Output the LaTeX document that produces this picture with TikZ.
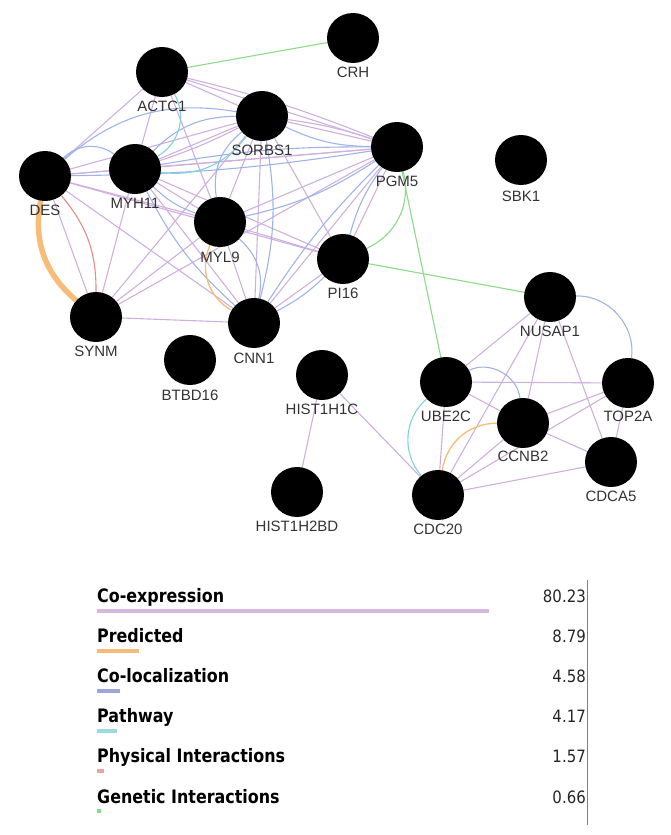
\documentclass[tikz,border=0pt]{standalone}
\usepackage{fontspec}
\setmainfont{Liberation Sans}
\newfontfamily\legfont[FakeStretch=0.86]{DejaVu Sans}
\newfontfamily\numfont[FakeStretch=0.88]{DejaVu Sans}
\usetikzlibrary{shapes.geometric}
\definecolor{cCo}{HTML}{CFB0DD}
\definecolor{cPred}{HTML}{F6BC78}
\definecolor{cLoc}{HTML}{9FB3E6}
\definecolor{cLocBar}{HTML}{9BA7DC}
\definecolor{cPath}{HTML}{7FD3D8}
\definecolor{cPhys}{HTML}{E88A8A}
\definecolor{cGen}{HTML}{8ADB8A}
\definecolor{lblgray}{HTML}{333333}
\pgfdeclarelayer{edgelayer}
\pgfsetlayers{edgelayer,main}
\tikzset{
  gene/.style={ellipse, fill=black, minimum width=52pt, minimum height=50pt, inner sep=0pt},
  glabel/.style={anchor=base, inner sep=0pt, text=lblgray, font=\fontsize{15}{18}\selectfont},
  eCo/.style={draw=cCo, line width=1.1pt},
  eLoc/.style={draw=cLoc, line width=1.1pt},
  ePath/.style={draw=cPath, line width=1.1pt},
  ePred/.style={draw=cPred, line width=1.3pt},
  ePhys/.style={draw=cPhys, line width=1.1pt},
  eGen/.style={draw=cGen, line width=1.1pt},
  legtext/.style={anchor=base west, inner sep=0pt, text=black, font=\legfont\bfseries\fontsize{18.5}{21}\selectfont},
  legnum/.style={anchor=base east, inner sep=0pt, text=black!85, font=\numfont\fontsize{17}{20}\selectfont},
  legbar/.style={line width=4pt}
}
\begin{document}
\begin{tikzpicture}[x=1pt,y=-1pt]
\useasboundingbox (0,0) rectangle (670,835);
% genes
\node[gene] (CRH) at (353,38) {};
\node[gene] (ACTC1) at (162,72) {};
\node[gene] (SORBS1) at (262,116) {};
\node[gene] (PGM5) at (397,147) {};
\node[gene] (SBK1) at (521,160) {};
\node[gene] (DES) at (45,176) {};
\node[gene] (MYH11) at (135,169) {};
\node[gene] (MYL9) at (220,222) {};
\node[gene] (PI16) at (343,259) {};
\node[gene] (NUSAP1) at (550,297) {};
\node[gene] (SYNM) at (96,317) {};
\node[gene] (CNN1) at (254,323) {};
\node[gene] (BTBD16) at (190,360) {};
\node[gene] (HIST1H1C) at (322,375) {};
\node[gene] (UBE2C) at (446,382) {};
\node[gene] (TOP2A) at (628,383) {};
\node[gene] (CCNB2) at (523,423) {};
\node[gene] (CDCA5) at (611,462) {};
\node[gene] (HIST1H2BD) at (297,492) {};
\node[gene] (CDC20) at (438,495) {};
% labels
\node[glabel] (lCRH) at (353,77) {CRH};
\node[glabel] (lACTC1) at (162,111) {ACTC1};
\node[glabel] (lSORBS1) at (262,155.5) {SORBS1};
\node[glabel] (lPGM5) at (397,186) {PGM5};
\node[glabel] (lSBK1) at (521,201) {SBK1};
\node[glabel] (lDES) at (45,215) {DES};
\node[glabel] (lMYH11) at (135,208) {MYH11};
\node[glabel] (lMYL9) at (220,262) {MYL9};
\node[glabel] (lPI16) at (343,298) {PI16};
\node[glabel] (lNUSAP1) at (550,336) {NUSAP1};
\node[glabel] (lSYNM) at (96,356) {SYNM};
\node[glabel] (lCNN1) at (254,363) {CNN1};
\node[glabel] (lBTBD16) at (190,400) {BTBD16};
\node[glabel] (lHIST1H1C) at (322,414) {HIST1H1C};
\node[glabel] (lUBE2C) at (446,421) {UBE2C};
\node[glabel] (lTOP2A) at (628,421) {TOP2A};
\node[glabel] (lCCNB2) at (523,461) {CCNB2};
\node[glabel] (lCDCA5) at (611,501) {CDCA5};
\node[glabel] (lHIST1H2BD) at (297,531) {HIST1H2BD};
\node[glabel] (lCDC20) at (438,534) {CDC20};
\begin{pgfonlayer}{edgelayer}
% co-expression
\foreach \a/\b in {ACTC1/SORBS1, ACTC1/PGM5, ACTC1/DES, ACTC1/MYH11, ACTC1/MYL9,
  DES/MYH11, DES/SORBS1, DES/PGM5, DES/MYL9, DES/CNN1, DES/SYNM, DES/PI16,
  MYH11/SORBS1, MYH11/PGM5, MYH11/MYL9, MYH11/CNN1, MYH11/SYNM, MYH11/PI16,
  SORBS1/PGM5, SORBS1/MYL9, SORBS1/CNN1, SORBS1/PI16, SORBS1/SYNM,
  PGM5/MYL9, PGM5/CNN1, PGM5/PI16, PGM5/SYNM,
  MYL9/CNN1, MYL9/SYNM, MYL9/PI16, PI16/CNN1, SYNM/CNN1,
  NUSAP1/UBE2C, NUSAP1/CCNB2, NUSAP1/CDC20, NUSAP1/CDCA5,
  UBE2C/TOP2A, UBE2C/CCNB2, UBE2C/CDC20,
  CCNB2/TOP2A, CCNB2/CDCA5, CCNB2/CDC20,
  TOP2A/CDCA5, TOP2A/CDC20, CDCA5/CDC20,
  HIST1H1C/CDC20, HIST1H1C/HIST1H2BD}
  \draw[eCo] (\a) -- (\b);
\draw[eCo] (ACTC1) to[bend left=4] (PGM5);
\draw[eCo] (MYH11) to[bend right=4] (SORBS1);
\draw[eCo] (SORBS1) to[bend left=5] (PGM5);
% co-localization
\draw[eLoc] (DES) to[bend left=25] (SORBS1);
\draw[eLoc] (DES) to[bend left=40] (MYH11);
\draw[eLoc] (MYH11) to[bend left=22] (SORBS1);
\draw[eLoc] (DES) to[bend right=4] (PGM5);
\draw[eLoc] (MYH11) to[bend left=5] (PGM5);
\draw[eLoc] (MYH11) to[bend right=12] (MYL9);
\draw[eLoc] (MYH11) to[bend right=10] (CNN1);
\draw[eLoc] (SORBS1) to[bend right=30] (MYL9);
\draw[eLoc] (SORBS1) to[bend left=12] (CNN1);
\draw[eLoc] (SORBS1) to[bend right=12] (PGM5);
\draw[eLoc] (PGM5) to[bend left=10] (MYL9);
\draw[eLoc] (PGM5) to[bend right=6] (CNN1);
\draw[eLoc] (PGM5) to[bend right=10] (PI16);
\draw[eLoc] (MYL9) to[bend left=30] (CNN1);
\draw[eLoc] (PI16) to[bend left=8] (CNN1);
\draw[eLoc] (NUSAP1) to[bend left=50] (TOP2A);
\draw[eLoc] (UBE2C) to[bend left=55] (CCNB2);
% pathway
\draw[ePath] (ACTC1) to[bend left=45] (MYH11);
\draw[ePath] (SORBS1) to[bend left=30] (MYH11);
\draw[ePath] (UBE2C) to[bend right=45] (CDC20);
% predicted
\draw[ePred, line width=5.5pt] (DES) to[bend right=30] (SYNM);
\draw[ePred] (MYL9) to[bend right=42] (CNN1);
\draw[ePred] (CCNB2) to[bend right=40] (CDC20);
% physical
\draw[ePhys] (DES) to[bend left=20] (SYNM);
% genetic
\draw[eGen] (ACTC1) -- (CRH);
\draw[eGen] (PGM5) to[bend left=40] (PI16);
\draw[eGen] (PGM5) -- (UBE2C);
\draw[eGen] (PI16) -- (NUSAP1);
\end{pgfonlayer}
% legend
\node[legtext] (t1) at (97,602) {Co-expression};
\node[legtext] (t2) at (97,642) {Predicted};
\node[legtext] (t3) at (97,682) {Co-localization};
\node[legtext] (t4) at (97,722) {Pathway};
\node[legtext] (t5) at (97,762) {Physical Interactions};
\node[legtext] (t6) at (97,803) {Genetic Interactions};
\draw[legbar, cCo!90] (97,610.5) -- (489,610.5);
\draw[legbar, cPred] (97,650.5) -- (139,650.5);
\draw[legbar, cLocBar] (97,690.5) -- (120,690.5);
\draw[legbar, cPath!80] (97,730.5) -- (117,730.5);
\draw[legbar, cPhys!80] (97,771) -- (104,771);
\draw[legbar, cGen] (97,811) -- (101,811);
\node[legnum] (n1) at (586,602) {80.23};
\node[legnum] (n2) at (586,642) {8.79};
\node[legnum] (n3) at (586,682) {4.58};
\node[legnum] (n4) at (586,722) {4.17};
\node[legnum] (n5) at (586,762) {1.57};
\node[legnum] (n6) at (586,803) {0.66};
\draw[gray, line width=1.5pt] (587.5,580) -- (587.5,825);
\end{tikzpicture}
\end{document}
